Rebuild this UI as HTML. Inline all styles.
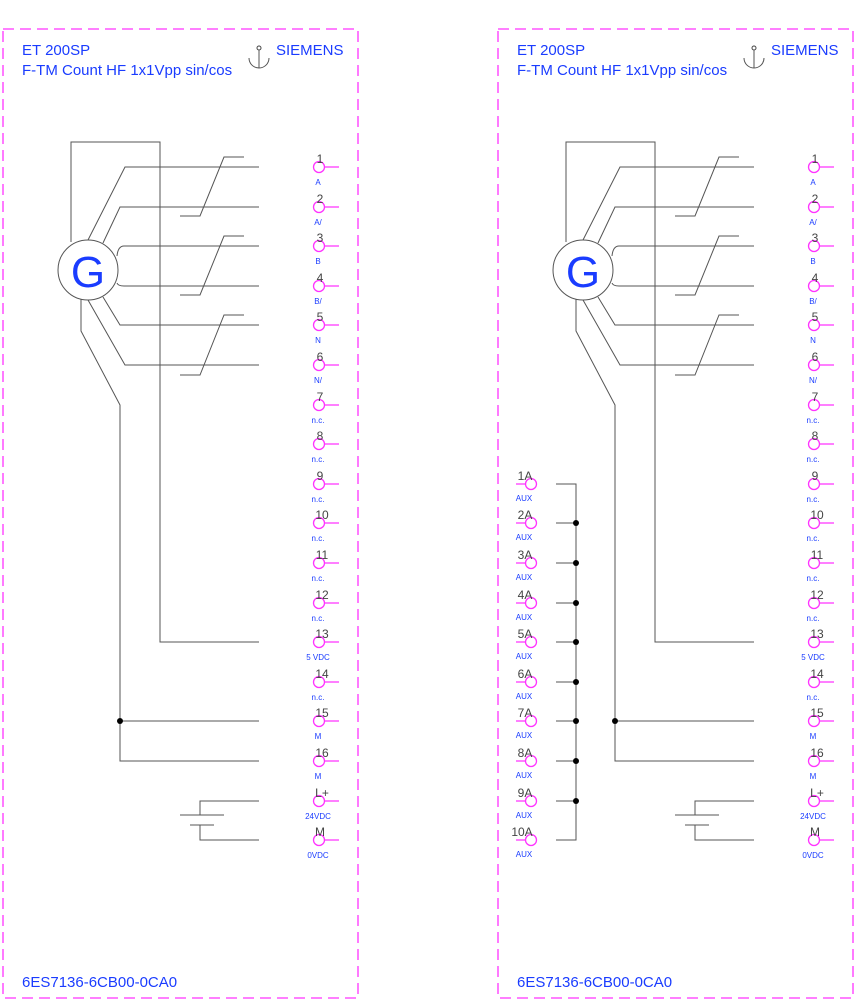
<!DOCTYPE html>
<html><head><meta charset="utf-8"><style>
html,body{margin:0;padding:0;background:#fff;}
svg{display:block;font-family:"Liberation Sans",sans-serif;}
.w{stroke:#555;stroke-width:1;fill:none}
.t{stroke:#ff33ff;stroke-width:1.3;fill:#fff}
.n{font-size:12px;fill:#444;text-anchor:middle}
.s{font-size:8px;fill:#1a3cff;text-anchor:middle}
.h{font-size:15px;fill:#1a3cff}
</style></head><body>
<svg width="854" height="1000" viewBox="0 0 854 1000">
<g id="P">
<rect x="3" y="29" width="355" height="969" fill="none" stroke="#ff33ff" stroke-width="1.3" stroke-dasharray="11,6"/>
<circle cx="259" cy="48" r="2" fill="none" stroke="#444"/>
<path class="w" d="M259 50V68M249 58A10 10 0 0 0 269 58" stroke="#444"/>
<path class="w" d="M71 242V142H160V642H259"/>
<path class="w" d="M88 240L125 167H259M103 243L120 207H259M117 256Q118 246 124 246H259M117 283Q118 286 124 286H259M103 297L120 325H259M88 300L125 365H259"/>
<path class="w" d="M180 216H200L224 157H244M180 295H200L224 236H244M180 375H200L224 315H244"/>
<path class="w" d="M81 297V331L120 405V761H259M120 721H259"/>
<circle cx="120" cy="721" r="3" fill="#000"/>
<path class="w" d="M259 801H200V815M180 815H224M190 825H214M200 825V840H259"/>
<circle cx="88" cy="270" r="30" fill="#fff" stroke="#555"/>
<g class="t">
<path d="M325 167h14M325 207h14M325 246h14M325 286h14M325 325h14M325 365h14M325 405h14M325 444h14M325 484h14M325 523h14M325 563h14M325 603h14M325 642h14M325 682h14M325 721h14M325 761h14M325 801h14M325 840h14"/>
<circle cx="319" cy="167" r="5.5"/><circle cx="319" cy="207" r="5.5"/><circle cx="319" cy="246" r="5.5"/><circle cx="319" cy="286" r="5.5"/><circle cx="319" cy="325" r="5.5"/><circle cx="319" cy="365" r="5.5"/><circle cx="319" cy="405" r="5.5"/><circle cx="319" cy="444" r="5.5"/><circle cx="319" cy="484" r="5.5"/><circle cx="319" cy="523" r="5.5"/><circle cx="319" cy="563" r="5.5"/><circle cx="319" cy="603" r="5.5"/><circle cx="319" cy="642" r="5.5"/><circle cx="319" cy="682" r="5.5"/><circle cx="319" cy="721" r="5.5"/><circle cx="319" cy="761" r="5.5"/><circle cx="319" cy="801" r="5.5"/><circle cx="319" cy="840" r="5.5"/>
</g>
</g>
<use href="#P" x="495"/>
<g>
<text class="h" x="22" y="55">ET 200SP</text>
<text class="h" x="22" y="75">F-TM Count HF 1x1Vpp sin/cos</text>
<text class="h" x="276" y="55">SIEMENS</text>
<text class="h" x="22" y="987">6ES7136-6CB00-0CA0</text>
<text x="88" y="287" font-size="44" fill="#1a3cff" text-anchor="middle">G</text>
<text class="n" x="320" y="163">1</text><text class="s" x="318" y="185">A</text>
<text class="n" x="320" y="203">2</text><text class="s" x="318" y="225">A/</text>
<text class="n" x="320" y="242">3</text><text class="s" x="318" y="264">B</text>
<text class="n" x="320" y="282">4</text><text class="s" x="318" y="304">B/</text>
<text class="n" x="320" y="321">5</text><text class="s" x="318" y="343">N</text>
<text class="n" x="320" y="361">6</text><text class="s" x="318" y="383">N/</text>
<text class="n" x="320" y="401">7</text><text class="s" x="318" y="423">n.c.</text>
<text class="n" x="320" y="440">8</text><text class="s" x="318" y="462">n.c.</text>
<text class="n" x="320" y="480">9</text><text class="s" x="318" y="502">n.c.</text>
<text class="n" x="322" y="519">10</text><text class="s" x="318" y="541">n.c.</text>
<text class="n" x="322" y="559">11</text><text class="s" x="318" y="581">n.c.</text>
<text class="n" x="322" y="599">12</text><text class="s" x="318" y="621">n.c.</text>
<text class="n" x="322" y="638">13</text><text class="s" x="318" y="660">5 VDC</text>
<text class="n" x="322" y="678">14</text><text class="s" x="318" y="700">n.c.</text>
<text class="n" x="322" y="717">15</text><text class="s" x="318" y="739">M</text>
<text class="n" x="322" y="757">16</text><text class="s" x="318" y="779">M</text>
<text class="n" x="322" y="797">L+</text><text class="s" x="318" y="819">24VDC</text>
<text class="n" x="320" y="836">M</text><text class="s" x="318" y="858">0VDC</text>
</g>
<g transform="translate(495 0)">
<text class="h" x="22" y="55">ET 200SP</text>
<text class="h" x="22" y="75">F-TM Count HF 1x1Vpp sin/cos</text>
<text class="h" x="276" y="55">SIEMENS</text>
<text class="h" x="22" y="987">6ES7136-6CB00-0CA0</text>
<text x="88" y="287" font-size="44" fill="#1a3cff" text-anchor="middle">G</text>
<text class="n" x="320" y="163">1</text><text class="s" x="318" y="185">A</text>
<text class="n" x="320" y="203">2</text><text class="s" x="318" y="225">A/</text>
<text class="n" x="320" y="242">3</text><text class="s" x="318" y="264">B</text>
<text class="n" x="320" y="282">4</text><text class="s" x="318" y="304">B/</text>
<text class="n" x="320" y="321">5</text><text class="s" x="318" y="343">N</text>
<text class="n" x="320" y="361">6</text><text class="s" x="318" y="383">N/</text>
<text class="n" x="320" y="401">7</text><text class="s" x="318" y="423">n.c.</text>
<text class="n" x="320" y="440">8</text><text class="s" x="318" y="462">n.c.</text>
<text class="n" x="320" y="480">9</text><text class="s" x="318" y="502">n.c.</text>
<text class="n" x="322" y="519">10</text><text class="s" x="318" y="541">n.c.</text>
<text class="n" x="322" y="559">11</text><text class="s" x="318" y="581">n.c.</text>
<text class="n" x="322" y="599">12</text><text class="s" x="318" y="621">n.c.</text>
<text class="n" x="322" y="638">13</text><text class="s" x="318" y="660">5 VDC</text>
<text class="n" x="322" y="678">14</text><text class="s" x="318" y="700">n.c.</text>
<text class="n" x="322" y="717">15</text><text class="s" x="318" y="739">M</text>
<text class="n" x="322" y="757">16</text><text class="s" x="318" y="779">M</text>
<text class="n" x="322" y="797">L+</text><text class="s" x="318" y="819">24VDC</text>
<text class="n" x="320" y="836">M</text><text class="s" x="318" y="858">0VDC</text>
</g>
<!-- AUX -->
<path class="w" d="M556 484H576V840H556M556 523H576M556 563H576M556 603H576M556 642H576M556 682H576M556 721H576M556 761H576M556 801H576"/>
<g fill="#000"><circle cx="576" cy="523" r="3"/><circle cx="576" cy="563" r="3"/><circle cx="576" cy="603" r="3"/><circle cx="576" cy="642" r="3"/><circle cx="576" cy="682" r="3"/><circle cx="576" cy="721" r="3"/><circle cx="576" cy="761" r="3"/><circle cx="576" cy="801" r="3"/></g>
<g class="t">
<path d="M516 484h10M516 523h10M516 563h10M516 603h10M516 642h10M516 682h10M516 721h10M516 761h10M516 801h10M516 840h10"/>
<circle cx="531" cy="484" r="5.5"/><circle cx="531" cy="523" r="5.5"/><circle cx="531" cy="563" r="5.5"/><circle cx="531" cy="603" r="5.5"/><circle cx="531" cy="642" r="5.5"/><circle cx="531" cy="682" r="5.5"/><circle cx="531" cy="721" r="5.5"/><circle cx="531" cy="761" r="5.5"/><circle cx="531" cy="801" r="5.5"/><circle cx="531" cy="840" r="5.5"/>
</g>
<g>
<text class="n" x="525" y="480">1A</text><text class="s" x="524" y="501">AUX</text>
<text class="n" x="525" y="519">2A</text><text class="s" x="524" y="540">AUX</text>
<text class="n" x="525" y="559">3A</text><text class="s" x="524" y="580">AUX</text>
<text class="n" x="525" y="599">4A</text><text class="s" x="524" y="620">AUX</text>
<text class="n" x="525" y="638">5A</text><text class="s" x="524" y="659">AUX</text>
<text class="n" x="525" y="678">6A</text><text class="s" x="524" y="699">AUX</text>
<text class="n" x="525" y="717">7A</text><text class="s" x="524" y="738">AUX</text>
<text class="n" x="525" y="757">8A</text><text class="s" x="524" y="778">AUX</text>
<text class="n" x="525" y="797">9A</text><text class="s" x="524" y="818">AUX</text>
<text class="n" x="522" y="836">10A</text><text class="s" x="524" y="857">AUX</text>
</g>
</svg>
</body></html>
